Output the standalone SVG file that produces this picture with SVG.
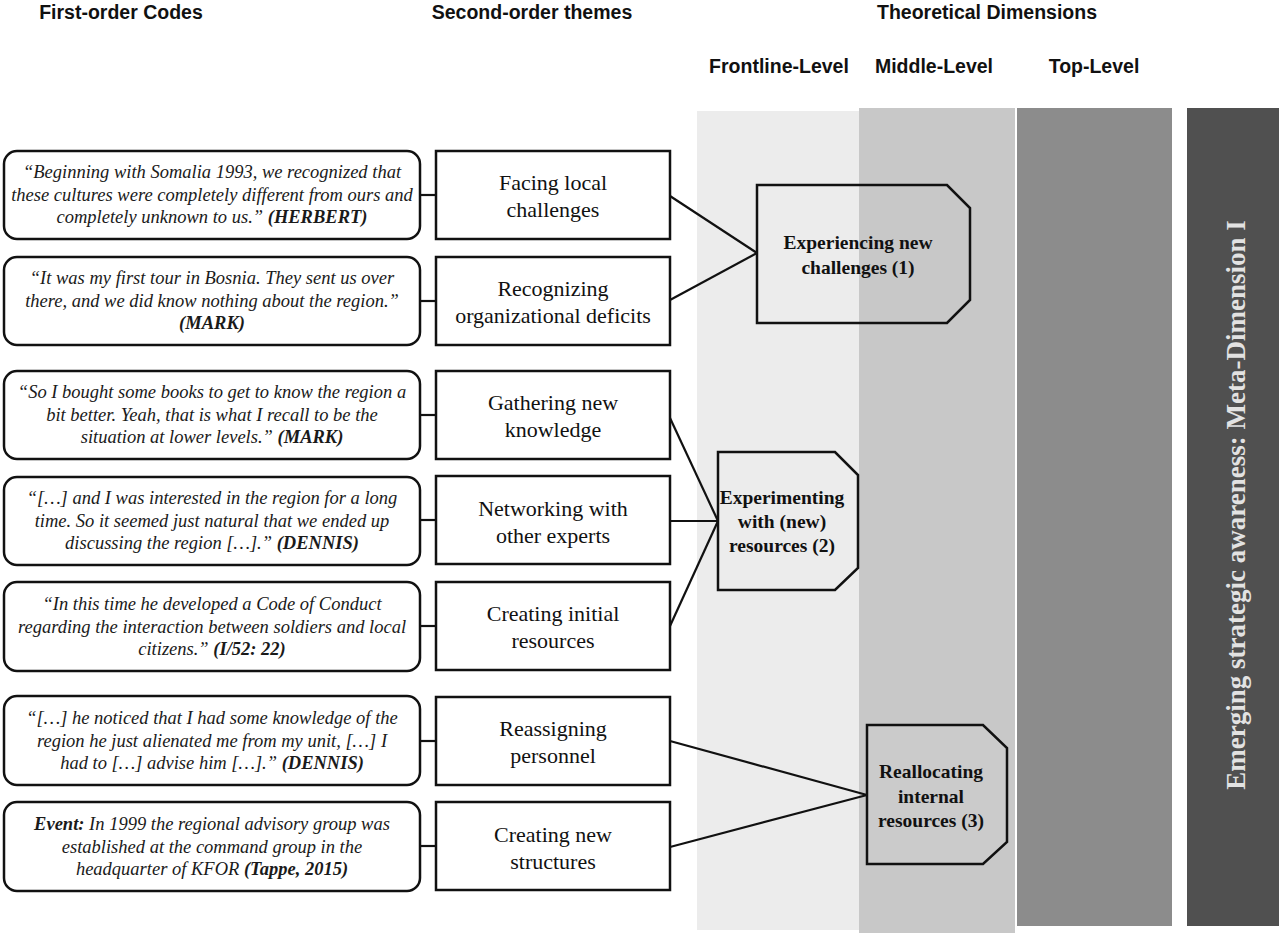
<svg xmlns="http://www.w3.org/2000/svg" width="1283" height="933" viewBox="0 0 1283 933">
<style>
.hdr{font-family:"Liberation Sans",Arial,sans-serif;font-weight:bold;font-size:19.5px;fill:#111;text-anchor:middle}
.q{font-family:"Liberation Serif","Times New Roman",serif;font-style:italic;font-size:18.5px;fill:#1a1a1a;text-anchor:middle}
.b{font-weight:bold}
.th{font-family:"Liberation Serif","Times New Roman",serif;font-size:22px;fill:#111;text-anchor:middle}
.dim{font-family:"Liberation Serif","Times New Roman",serif;font-weight:bold;font-size:19.5px;fill:#111;text-anchor:middle}
.qbox{fill:#fff;stroke:#111;stroke-width:2.5}
.tbox{fill:#fff;stroke:#111;stroke-width:2.5}
.pent{stroke:#111;stroke-width:2.5}
.con line{stroke:#111;stroke-width:2.2}
</style>
<rect width="1283" height="933" fill="#fff"/>
<g id="bands">
<rect x="697" y="111" width="162" height="819" fill="#ececec"/>
<rect x="859" y="108" width="156" height="825" fill="#c8c8c8"/>
<rect x="1017" y="108" width="155" height="818" fill="#8c8c8c"/>
<rect x="1187" y="108" width="92" height="818" fill="#505050"/>
</g>
<g id="headers">
<text class="hdr" x="121" y="19">First-order Codes</text>
<text class="hdr" x="532" y="19">Second-order themes</text>
<text class="hdr" x="987" y="19">Theoretical Dimensions</text>
<text class="hdr" x="779" y="73">Frontline-Level</text>
<text class="hdr" x="934" y="73">Middle-Level</text>
<text class="hdr" x="1094" y="73">Top-Level</text>
</g>
<g id="connectors" class="con">
<line x1="420" y1="195" x2="436" y2="195"/>
<line x1="420" y1="301" x2="436" y2="301"/>
<line x1="420" y1="415" x2="436" y2="415"/>
<line x1="420" y1="520" x2="436" y2="520"/>
<line x1="420" y1="626" x2="436" y2="626"/>
<line x1="420" y1="741" x2="436" y2="741"/>
<line x1="420" y1="846" x2="436" y2="846"/>
<line x1="670" y1="196" x2="757" y2="253"/>
<line x1="670" y1="300" x2="757" y2="253"/>
<line x1="670" y1="418" x2="718" y2="521"/>
<line x1="670" y1="521" x2="718" y2="521"/>
<line x1="670" y1="626" x2="718" y2="521"/>
<line x1="670" y1="741" x2="867" y2="795"/>
<line x1="670" y1="847" x2="867" y2="795"/>
</g>
<g id="code1">
<rect class="qbox" x="4" y="151" width="416" height="88" rx="13"/>
<text class="q" x="212" y="178">“Beginning with Somalia 1993, we recognized that</text>
<text class="q" x="212" y="200.5">these cultures were completely different from ours and</text>
<text class="q" x="212" y="223">completely unknown to us.” <tspan class="b">(HERBERT)</tspan></text>
</g>
<g id="code2">
<rect class="qbox" x="4" y="257" width="416" height="88" rx="13"/>
<text class="q" x="212" y="284">“It was my first tour in Bosnia. They sent us over</text>
<text class="q" x="212" y="306.5">there, and we did know nothing about the region.”</text>
<text class="q b" x="212" y="329">(MARK)</text>
</g>
<g id="code3">
<rect class="qbox" x="4" y="371" width="416" height="88" rx="13"/>
<text class="q" x="212" y="398">“So I bought some books to get to know the region a</text>
<text class="q" x="212" y="420.5">bit better. Yeah, that is what I recall to be the</text>
<text class="q" x="212" y="443">situation at lower levels.” <tspan class="b">(MARK)</tspan></text>
</g>
<g id="code4">
<rect class="qbox" x="4" y="477" width="416" height="88" rx="13"/>
<text class="q" x="212" y="504">“[…] and I was interested in the region for a long</text>
<text class="q" x="212" y="526.5">time. So it seemed just natural that we ended up</text>
<text class="q" x="212" y="549">discussing the region […].” <tspan class="b">(DENNIS)</tspan></text>
</g>
<g id="code5">
<rect class="qbox" x="4" y="582" width="416" height="89" rx="13"/>
<text class="q" x="212" y="610">“In this time he developed a Code of Conduct</text>
<text class="q" x="212" y="632.5">regarding the interaction between soldiers and local</text>
<text class="q" x="212" y="655">citizens.” <tspan class="b">(I/52: 22)</tspan></text>
</g>
<g id="code6">
<rect class="qbox" x="4" y="696" width="416" height="89" rx="13"/>
<text class="q" x="212" y="724">“[…] he noticed that I had some knowledge of the</text>
<text class="q" x="212" y="746.5">region he just alienated me from my unit, […] I</text>
<text class="q" x="212" y="769">had to […] advise him […].” <tspan class="b">(DENNIS)</tspan></text>
</g>
<g id="code7">
<rect class="qbox" x="4" y="802" width="416" height="89" rx="13"/>
<text class="q" x="212" y="830"><tspan class="b">Event:</tspan> In 1999 the regional advisory group was</text>
<text class="q" x="212" y="852.5">established at the command group in the</text>
<text class="q" x="212" y="875">headquarter of KFOR <tspan class="b">(Tappe, 2015)</tspan></text>
</g>
<g id="theme1">
<rect class="tbox" x="436" y="151" width="234" height="88"/>
<text class="th" x="553" y="190">Facing local</text>
<text class="th" x="553" y="217">challenges</text>
</g>
<g id="theme2">
<rect class="tbox" x="436" y="257" width="234" height="88"/>
<text class="th" x="553" y="296">Recognizing</text>
<text class="th" x="553" y="323">organizational deficits</text>
</g>
<g id="theme3">
<rect class="tbox" x="436" y="371" width="234" height="88"/>
<text class="th" x="553" y="410">Gathering new</text>
<text class="th" x="553" y="437">knowledge</text>
</g>
<g id="theme4">
<rect class="tbox" x="436" y="476" width="234" height="88"/>
<text class="th" x="553" y="516">Networking with</text>
<text class="th" x="553" y="543">other experts</text>
</g>
<g id="theme5">
<rect class="tbox" x="436" y="582" width="234" height="88"/>
<text class="th" x="553" y="621">Creating initial</text>
<text class="th" x="553" y="648">resources</text>
</g>
<g id="theme6">
<rect class="tbox" x="436" y="697" width="234" height="88"/>
<text class="th" x="553" y="736">Reassigning</text>
<text class="th" x="553" y="763">personnel</text>
</g>
<g id="theme7">
<rect class="tbox" x="436" y="802" width="234" height="88"/>
<text class="th" x="553" y="842">Creating new</text>
<text class="th" x="553" y="869">structures</text>
</g>
<g id="dim1">
<path class="pent" fill="none" d="M757,185 L947,185 L970,208 L970,300 L947,323 L757,323 Z"/>
<text class="dim" x="858" y="249">Experiencing new</text>
<text class="dim" x="858" y="274">challenges (1)</text>
</g>
<g id="dim2">
<path class="pent" fill="#ececec" d="M718,452 L835,452 L858,475 L858,568 L835,590 L718,590 Z"/>
<text class="dim" x="782" y="504">Experimenting</text>
<text class="dim" x="782" y="528">with (new)</text>
<text class="dim" x="782" y="552">resources (2)</text>
</g>
<g id="dim3">
<path class="pent" fill="#cbcbcb" d="M867,725 L983,725 L1007,748 L1007,842 L983,864 L867,864 Z"/>
<text class="dim" x="931" y="778">Reallocating</text>
<text class="dim" x="931" y="803">internal</text>
<text class="dim" x="931" y="827">resources (3)</text>
</g>
<g id="meta">
<text transform="translate(1245,505) rotate(-90)" font-family="'Liberation Serif','Times New Roman',serif" font-weight="bold" font-size="27" fill="#e2e2e2" text-anchor="middle">Emerging strategic awareness: Meta-Dimension I</text>
</g>
</svg>
